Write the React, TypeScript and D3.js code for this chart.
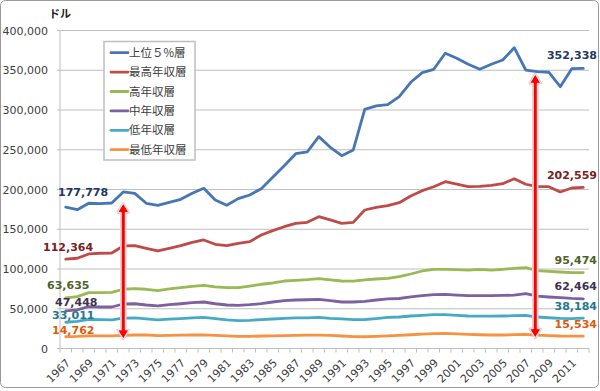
import React from "react";
import * as d3 from "d3";

const years: number[] = d3.range(1967, 2013);
const xTickLabels: number[] = d3.range(1967, 2012, 2);
const yTicks: number[] = [0, 50000, 100000, 150000, 200000, 250000, 300000, 350000, 400000];

const seriesNames = ["上位５%層", "最高年収層", "高年収層", "中年収層", "低年収層", "最低年収層"];
const lineColors = ["#4676B4", "#BE4B48", "#98B954", "#7D60A0", "#46AAC5", "#F69240"];
const labelColors = ["#1F3864", "#7B2020", "#4F6228", "#3F3151", "#23788F", "#E05A0C"];

const top5 = [177778,174600,182700,182200,183000,196900,195200,182700,180100,183900,
  187700,195200,201500,186800,180100,188500,193100,201000,215400,230000,
  245000,247200,266500,253100,242600,249700,300900,305100,306700,316800,
  334900,347000,351200,371400,365100,357500,351200,357500,362900,378400,
  350300,348200,347500,329300,352000,352338];
const highest = [112364,113500,118900,119800,120100,129000,129300,126000,122700,126000,
  129300,133600,136500,131100,129300,132300,134400,142800,148200,153200,
  157500,158700,165800,161700,157500,158700,174200,177600,179700,183400,
  191800,198500,203500,209800,206900,203500,204000,205300,207300,213600,
  206600,203500,203500,196900,201900,202559];
const high = [63635,65200,70200,70200,70600,74500,75200,74500,72700,74900,
  76500,78200,79500,77400,76500,76500,78600,80800,82400,84900,
  85800,86600,87800,86200,84900,84700,86200,87400,88300,90300,
  93700,97500,99600,99600,99200,98500,99600,98500,99600,100900,
  101600,97900,97000,96200,95400,95474];
const middle = [47448,48500,52600,52200,52200,56000,56300,54700,53500,55100,
  56300,57600,58500,56300,54700,54300,55100,56400,58500,60100,
  61000,61300,61900,60200,58500,58500,59400,61000,62300,62900,
  64800,66400,67700,68000,67100,66400,66400,66400,66800,67100,
  68900,65900,64800,64000,63000,62464];
const low = [33011,34000,36500,36200,36000,38300,38400,37300,35900,37000,
  37700,38600,39200,37500,35900,35000,35500,36400,37100,38000,
  38600,38600,39200,38000,37200,36200,36500,37700,39200,39600,
  40900,41700,42600,42600,41700,40900,40600,40600,40900,41300,
  41700,39600,38700,38000,37700,38184];
const lowest = [14762,15200,16000,16000,16000,16500,17000,17200,16300,16600,
  16700,17000,17200,16500,15800,15200,15200,15700,15900,16300,
  16600,16800,16800,16400,15700,15000,14800,15300,16000,16600,
  17300,18000,18600,19000,18500,17800,17300,17000,17000,17400,
  17600,16800,16300,15700,15500,15534];

const series = [top5, highest, high, middle, low, lowest];

// arrow annotations: [year, topValue, bottomValue]
const arrowYears = [1972, 2008];
const arrowTops = [182500, 345000];
const arrowBottoms = [12000, 13500];

// label layout (pixels): left labels start x / dy; right labels baseline y
const leftLabelX = [58, 43, 47, 55, 52, 52];
const leftLabelDy = [-11, -8, -9, -5, -3, -3];
const rightLabelY = [59, 179, 264, 290, 310, 328];

const W = 600, H = 391;
const left = 60, right = 589, top = 30.5, bottom = 348.5;

export default function App() {
  const band = d3.scaleBand<number>().domain(years).range([left, right]).padding(0);
  const x = (yr: number) => (band(yr) as number) + band.bandwidth() / 2;
  const y = d3.scaleLinear().domain([0, 400000]).range([bottom, top]);
  const fmt = d3.format(",");
  const line = d3.line<number>().x((_, i) => x(years[i])).y((v) => y(v)).curve(d3.curveLinear);

  const arrowPath = (cx: number, y1: number, y2: number) => {
    const sw = 2, hw = 5.5, hl = 9;
    return `M${cx},${y1} L${cx + hw},${y1 + hl} L${cx + sw},${y1 + hl} L${cx + sw},${y2 - hl} L${cx + hw},${y2 - hl} L${cx},${y2} L${cx - hw},${y2 - hl} L${cx - sw},${y2 - hl} L${cx - sw},${y1 + hl} L${cx - hw},${y1 + hl} Z`;
  };

  const font = "'DejaVu Sans', Verdana, sans-serif";
  const cjk = "'Noto Sans CJK JP', 'DejaVu Sans', sans-serif";

  return (
    <svg width={W} height={H} style={{ position: "absolute", left: 0, top: 0, background: "#fff" }}>
      <rect x={0.5} y={0.5} width={598} height={387} rx={5} fill="#fff" stroke="#9a9a9a" strokeWidth={1} />
      {/* gridlines */}
      {yTicks.filter((t) => t > 0).map((t) => (
        <line key={t} x1={left - 3} x2={right} y1={y(t)} y2={y(t)} stroke="#BFBFBF" strokeWidth={1} />
      ))}
      {/* axes */}
      <line x1={left} x2={left} y1={top} y2={bottom} stroke="#BFBFBF" strokeWidth={1} />
      <line x1={left - 3} x2={right} y1={bottom} y2={bottom} stroke="#BFBFBF" strokeWidth={1} />
      {years.concat([2013]).map((yr, i) => {
        const xx = left + i * band.bandwidth();
        return <line key={"t" + yr} x1={xx} x2={xx} y1={bottom} y2={bottom + 4} stroke="#BFBFBF" strokeWidth={1} />;
      })}
      {yTicks.map((t) => (
        <text key={"yl" + t} x={48} y={y(t) + 4} textAnchor="end" fontFamily={font} fontSize={11} fill="#404040">
          {fmt(t)}
        </text>
      ))}
      {xTickLabels.map((yr) => (
        <text key={"xl" + yr} transform={`translate(${x(yr) + 3},${bottom + 13}) rotate(-45)`} textAnchor="end"
          fontFamily={font} fontSize={11} fill="#404040" dominantBaseline="middle">
          {yr}
        </text>
      ))}
      <text x={49} y={18} fontFamily={cjk} fontWeight="bold" fontSize={11} fill="#222">ドル</text>
      {/* lines */}
      {series.map((s, i) => (
        <path key={"s" + i} d={line(s) || ""} fill="none" stroke={lineColors[i]} strokeWidth={2.8} strokeLinejoin="round" strokeLinecap="round" />
      ))}
      {/* arrows */}
      {arrowYears.map((yr, i) => {
        const cx = x(yr) - (i === 1 ? 2 : 0);
        const d = arrowPath(cx, y(arrowTops[i]), y(arrowBottoms[i]));
        return (
          <g key={"a" + i}>
            <path d={d} fill="none" stroke="#cfcfcf" strokeWidth={2.5} strokeLinejoin="round" />
            <path d={d} fill="#FF0000" stroke="#fff" strokeWidth={0.8} strokeLinejoin="miter" />
          </g>
        );
      })}
      {/* data labels */}
      {series.map((s, i) => (
        <g key={"lbl" + i}>
          <text x={leftLabelX[i]} y={y(s[0]) + leftLabelDy[i]} fontFamily={font} fontWeight="bold" fontSize={11} fill={labelColors[i]}>
            {fmt(s[0])}
          </text>
          <text x={597} y={rightLabelY[i]} textAnchor="end" fontFamily={font} fontWeight="bold" fontSize={11} fill={labelColors[i]}>
            {fmt(s[s.length - 1])}
          </text>
        </g>
      ))}
      {/* legend */}
      <rect x={104} y={41.5} width={91} height={118.5} fill="#fff" stroke="#BFBFBF" strokeWidth={1.5} />
      {seriesNames.map((n, i) => {
        const cy = 52.7 + i * 19.4;
        return (
          <g key={"lg" + i}>
            <line x1={111} x2={128} y1={cy} y2={cy} stroke={lineColors[i]} strokeWidth={2.8} strokeLinecap="round" />
            <text x={129} y={cy + 4} fontFamily={cjk} fontSize={11.5} fill="#404040">{n}</text>
          </g>
        );
      })}
    </svg>
  );
}
